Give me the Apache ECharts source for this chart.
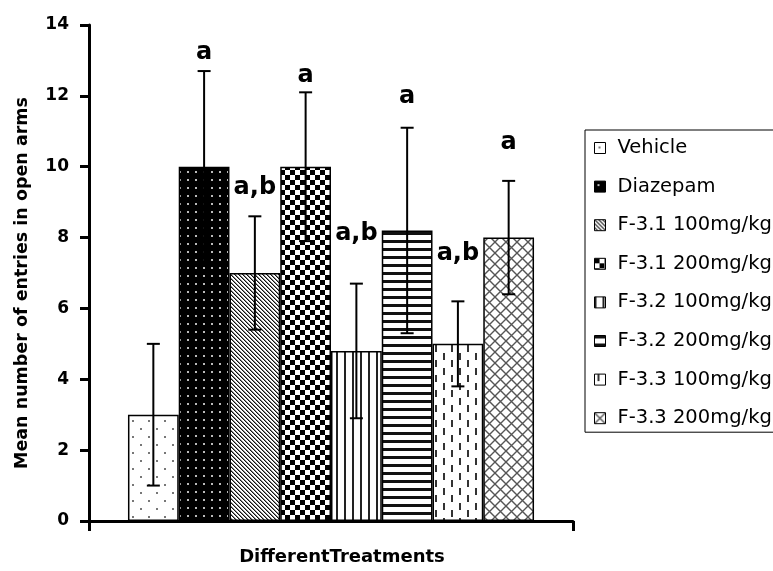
<!DOCTYPE html>
<html>
<head>
<meta charset="utf-8">
<script src="https://cdn.jsdelivr.net/npm/echarts@6/dist/echarts.min.js"></script>
<style>
  html, body { margin: 0; padding: 0; background: #fff; }
  #chart { width: 773px; height: 571px; }
</style>
</head>
<body>
<div id="chart"></div>
<script>
// Treatment groups, mean open-arm entries and their error (±)
const treatments = ['Vehicle', 'Diazepam', 'F-3.1 100mg/kg', 'F-3.1 200mg/kg',
                    'F-3.2 100mg/kg', 'F-3.2 200mg/kg', 'F-3.3 100mg/kg', 'F-3.3 200mg/kg'];
const meanEntries = [3.0, 10.0, 7.0, 10.0, 4.8, 8.2, 5.0, 8.0];
const errorEntries = [2.0, 2.7, 1.6, 2.1, 1.9, 2.9, 1.2, 1.6];
const significance = ['', 'a', 'a,b', 'a', 'a,b', 'a', 'a,b', 'a'];
const yTicks = [0, 2, 4, 6, 8, 10, 12, 14];

// Pixel lift of each significance letter above its error-bar cap
const letterLift = [0, 18, 29, 17, 50, 31, 48, 38];

const BAR_GAP_RATIO = 0.161;
const FONT = '"DejaVu Sans", sans-serif';

// Monochrome fill patterns
function tile(w, h, bg, draw) {
  const c = document.createElement('canvas');
  c.width = w; c.height = h;
  const g = c.getContext('2d');
  g.fillStyle = bg;
  g.fillRect(0, 0, w, h);
  draw(g);
  return { image: c, repeat: 'repeat' };
}
const patterns = [
  // sparse staggered dots
  tile(16, 16, '#fff', g => { g.fillStyle = '#777'; g.fillRect(4, 4, 2, 2); g.fillRect(12, 12, 2, 2); }),
  // black with light dots
  tile(8, 8, '#000', g => { g.fillStyle = '#bbb'; g.fillRect(3, 3, 2, 2); }),
  // fine back-diagonal stripes
  tile(4, 4, '#fff', g => {
    for (let i = 0; i < 4; i++) {
      g.fillStyle = '#111'; g.fillRect(i, i, 1, 1);
      g.fillStyle = '#888'; g.fillRect((i + 1) % 4, i, 1, 1);
    }
  }),
  // checkerboard
  tile(10, 10, '#fff', g => { g.fillStyle = '#000'; g.fillRect(0, 0, 5, 5); g.fillRect(5, 5, 5, 5); }),
  // vertical lines
  tile(8, 8, '#fff', g => { g.fillStyle = '#222'; g.fillRect(0, 0, 2, 8); }),
  // horizontal lines
  tile(8, 8, '#fff', g => { g.fillStyle = '#111'; g.fillRect(0, 0, 8, 3); }),
  // staggered vertical dashes
  tile(16, 15, '#fff', g => { g.fillStyle = '#333'; g.fillRect(3, 0, 2, 7); g.fillRect(11, 8, 2, 7); }),
  // diamond cross-hatch
  tile(11, 11, '#fff', g => {
    g.strokeStyle = '#555'; g.lineWidth = 1.4;
    g.beginPath();
    g.moveTo(0, 0); g.lineTo(11, 11);
    g.moveTo(11, 0); g.lineTo(0, 11);
    g.stroke();
  })
];

const barSeries = treatments.map((name, i) => ({
  name: name,
  type: 'bar',
  data: [meanEntries[i]],
  barGap: '0%',
  barCategoryGap: (BAR_GAP_RATIO * 100) + '%',
  itemStyle: { color: patterns[i], borderColor: '#000', borderWidth: 1.5 },
  z: 2
}));

// Error bars with significance letters
const errorSeries = {
  name: 'error',
  type: 'custom',
  z: 5,
  data: treatments.map((_, i) => [0, meanEntries[i] + errorEntries[i], meanEntries[i] - errorEntries[i], i]),
  encode: { x: 0, y: [1, 2] },
  renderItem: function (params, api) {
    const i = api.value(3);
    const n = treatments.length;
    const center = api.coord([0, 0])[0];
    const band = api.size([1, 0])[0];
    const bw = band * (1 - BAR_GAP_RATIO) / n;
    const x = center + (i - (n - 1) / 2) * bw;
    const yHi = api.coord([0, api.value(1)])[1];
    const yLo = api.coord([0, api.value(2)])[1];
    const cap = 6.5;
    const st = { stroke: '#000', lineWidth: 2 };
    const children = [
      { type: 'line', shape: { x1: x, y1: yHi, x2: x, y2: yLo }, style: st },
      { type: 'line', shape: { x1: x - cap, y1: yHi, x2: x + cap, y2: yHi }, style: st },
      { type: 'line', shape: { x1: x - cap, y1: yLo, x2: x + cap, y2: yLo }, style: st }
    ];
    if (significance[i]) {
      children.push({
        type: 'text',
        style: {
          text: significance[i], x: x, y: yHi - letterLift[i],
          align: 'center', verticalAlign: 'middle',
          fill: '#000', font: 'bold 24px ' + FONT
        }
      });
    }
    return { type: 'group', children: children };
  }
};

const chart = echarts.init(document.getElementById('chart'), null, { renderer: 'canvas' });
chart.setOption({
  animation: false,
  backgroundColor: '#fff',
  grid: { left: 89, right: 200, top: 25, bottom: 46, containLabel: false },
  legend: {
    data: treatments,
    orient: 'vertical',
    left: 585,
    top: 130,
    padding: [8, 40, 4, 9],
    itemWidth: 11,
    itemHeight: 11,
    itemGap: 18.6,
    icon: 'rect',
    borderColor: '#000',
    borderWidth: 1,
    textStyle: { fontFamily: FONT, fontSize: 19.5, lineHeight: 20, color: '#000', padding: [0, 0, 0, 7] },
    itemStyle: { borderWidth: 1 }
  },
  xAxis: {
    type: 'category',
    data: [''],
    name: 'DifferentTreatments',
    nameLocation: 'middle',
    nameGap: 27,
    nameTextStyle: { fontFamily: FONT, fontWeight: 'bold', fontSize: 18, color: '#000', padding: [0, 0, 0, 22] },
    axisLine: { lineStyle: { color: '#000', width: 3 } },
    axisTick: { show: true, length: 10, lineStyle: { color: '#000', width: 3 } },
    axisLabel: { show: false },
    splitLine: { show: false }
  },
  yAxis: {
    type: 'value',
    min: yTicks[0],
    max: yTicks[yTicks.length - 1],
    interval: yTicks[1] - yTicks[0],
    name: 'Mean number of entries in open arms',
    nameLocation: 'middle',
    nameGap: 58,
    nameTextStyle: { fontFamily: FONT, fontWeight: 'bold', fontSize: 17.5, color: '#000', padding: [0, 20, 0, 0] },
    axisLine: { show: true, lineStyle: { color: '#000', width: 3 } },
    axisTick: { show: true, length: 9, lineStyle: { color: '#000', width: 3 } },
    axisLabel: { margin: 20, fontFamily: FONT, fontWeight: 'bold', fontSize: 17, color: '#000' },
    splitLine: { show: false }
  },
  series: barSeries.concat([errorSeries])
});
</script>
</body>
</html>
